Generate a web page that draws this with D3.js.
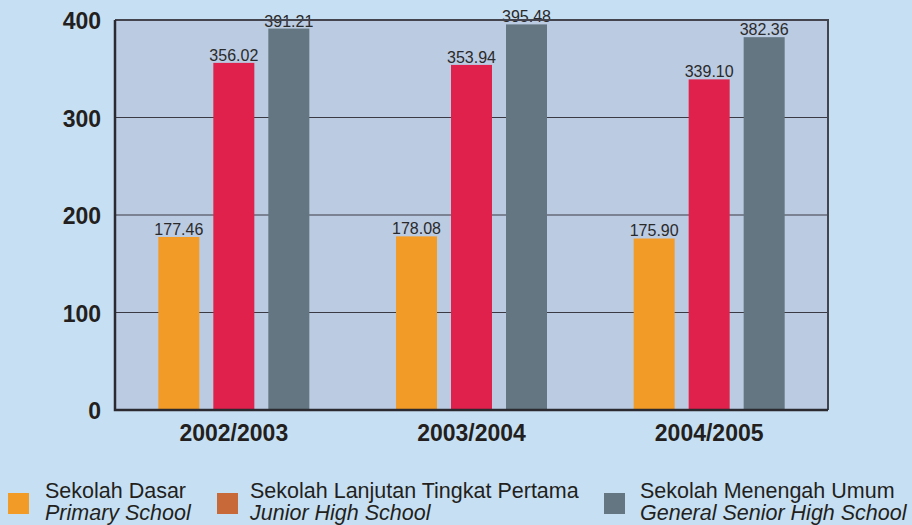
<!DOCTYPE html>
<html>
<head>
<meta charset="utf-8">
<script src="https://cdn.jsdelivr.net/npm/d3@7/dist/d3.min.js"></script>
<style>
  html, body { margin: 0; padding: 0; background: #c7dff2; }
  svg { display: block; font-family: "Liberation Sans", Arial, sans-serif; }
</style>
</head>
<body>
<svg id="svg"></svg>
<script>
// data
const years = ["2002/2003", "2003/2004", "2004/2005"];
const primary = [177.46, 178.08, 175.90];
const junior = [356.02, 353.94, 339.10];
const senior = [391.21, 395.48, 382.36];
const yTicks = [0, 100, 200, 300, 400];
const seriesKeys = ["primary", "junior", "senior"];
const legendTop = ["Sekolah Dasar", "Sekolah Lanjutan Tingkat Pertama", "Sekolah Menengah Umum"];
const legendBottom = ["Primary School", "Junior High School", "General Senior High School"];

const width = 912;
const height = 525;
const barColours = { primary: "#f39b27", junior: "#df214b", senior: "#637681" };
const legendColours = ["#f39b27", "#c8693a", "#637681"];

let svg = d3.select("#svg").attr("width", width).attr("height", height);

const plot = { left: 115, right: 828, top: 20, bottom: 410 };

let xScale = d3.scaleBand()
    .domain(years)
    .range([plot.left, plot.right]);

let xSub = d3.scaleBand()
    .domain(seriesKeys)
    .range([-75.5, 75.5])
    .paddingInner(14 / 55);

let yScale = d3.scaleLinear()
    .domain([0, 400])
    .range([plot.bottom, plot.top]);

// plot background
svg.append("rect")
    .attr("x", plot.left)
    .attr("y", plot.top)
    .attr("width", plot.right - plot.left)
    .attr("height", plot.bottom - plot.top)
    .attr("fill", "#bbcbe2");

// grid lines
svg.append("g")
    .selectAll("line")
    .data(yTicks.filter(d => d > 0 && d < 400))
    .join("line")
    .attr("x1", plot.left)
    .attr("x2", plot.right)
    .attr("y1", d => yScale(d))
    .attr("y2", d => yScale(d))
    .attr("stroke", "#3a3a44")
    .attr("stroke-width", 1);

// bars
const rows = years.map((y, i) => ({
    year: y,
    primary: primary[i],
    junior: junior[i],
    senior: senior[i]
}));

const groups = svg.append("g")
    .selectAll("g")
    .data(rows)
    .join("g")
    .attr("transform", d => `translate(${xScale(d.year) + xScale.bandwidth() / 2},0)`);

groups.selectAll("rect")
    .data(d => seriesKeys.map(k => ({ key: k, value: d[k] })))
    .join("rect")
    .attr("x", d => xSub(d.key))
    .attr("y", d => yScale(d.value))
    .attr("width", xSub.bandwidth())
    .attr("height", d => yScale(0) - yScale(d.value))
    .attr("fill", d => barColours[d.key]);

groups.selectAll("text")
    .data(d => seriesKeys.map(k => ({ key: k, value: d[k] })))
    .join("text")
    .attr("x", d => xSub(d.key) + xSub.bandwidth() / 2)
    .attr("y", d => yScale(d.value) - 2)
    .attr("text-anchor", "middle")
    .attr("font-size", "16px")
    .attr("fill", "#2a2a2a")
    .text(d => d3.format(".2f")(d.value));

// frame: top and right
svg.append("path")
    .attr("d", `M${plot.left},${plot.top}H${plot.right}V${plot.bottom}`)
    .attr("fill", "none")
    .attr("stroke", "#44444f")
    .attr("stroke-width", 2);

// axes lines
svg.append("path")
    .attr("d", `M${plot.left},${plot.top}V${plot.bottom}H${plot.right}`)
    .attr("fill", "none")
    .attr("stroke", "#2a2a30")
    .attr("stroke-width", 2.5);

// y tick labels
svg.append("g")
    .selectAll("text")
    .data(yTicks)
    .join("text")
    .attr("x", 101)
    .attr("y", d => yScale(d) + 9)
    .attr("text-anchor", "end")
    .attr("font-size", "23px")
    .attr("font-weight", "bold")
    .attr("fill", "#231f20")
    .text(d => d);

// x category labels
svg.append("g")
    .selectAll("text")
    .data(years)
    .join("text")
    .attr("x", d => xScale(d) + xScale.bandwidth() / 2)
    .attr("y", 441)
    .attr("text-anchor", "middle")
    .attr("font-size", "23px")
    .attr("font-weight", "bold")
    .attr("fill", "#231f20")
    .text(d => d);

// legend
const legendX = [8, 217, 604];
const legendTextX = [45, 250, 640];
const legend = svg.append("g")
    .selectAll("g")
    .data(legendTop)
    .join("g");

legend.append("rect")
    .attr("x", (d, i) => legendX[i])
    .attr("y", 493)
    .attr("width", 21)
    .attr("height", 21)
    .attr("fill", (d, i) => legendColours[i]);

legend.append("text")
    .attr("x", (d, i) => legendTextX[i])
    .attr("y", 498)
    .attr("font-size", "21.5px")
    .attr("fill", "#231f20")
    .text(d => d);

legend.append("text")
    .attr("x", (d, i) => legendTextX[i])
    .attr("y", 520)
    .attr("font-size", "21.5px")
    .attr("font-style", "italic")
    .attr("fill", "#231f20")
    .text((d, i) => legendBottom[i]);
</script>
</body>
</html>
